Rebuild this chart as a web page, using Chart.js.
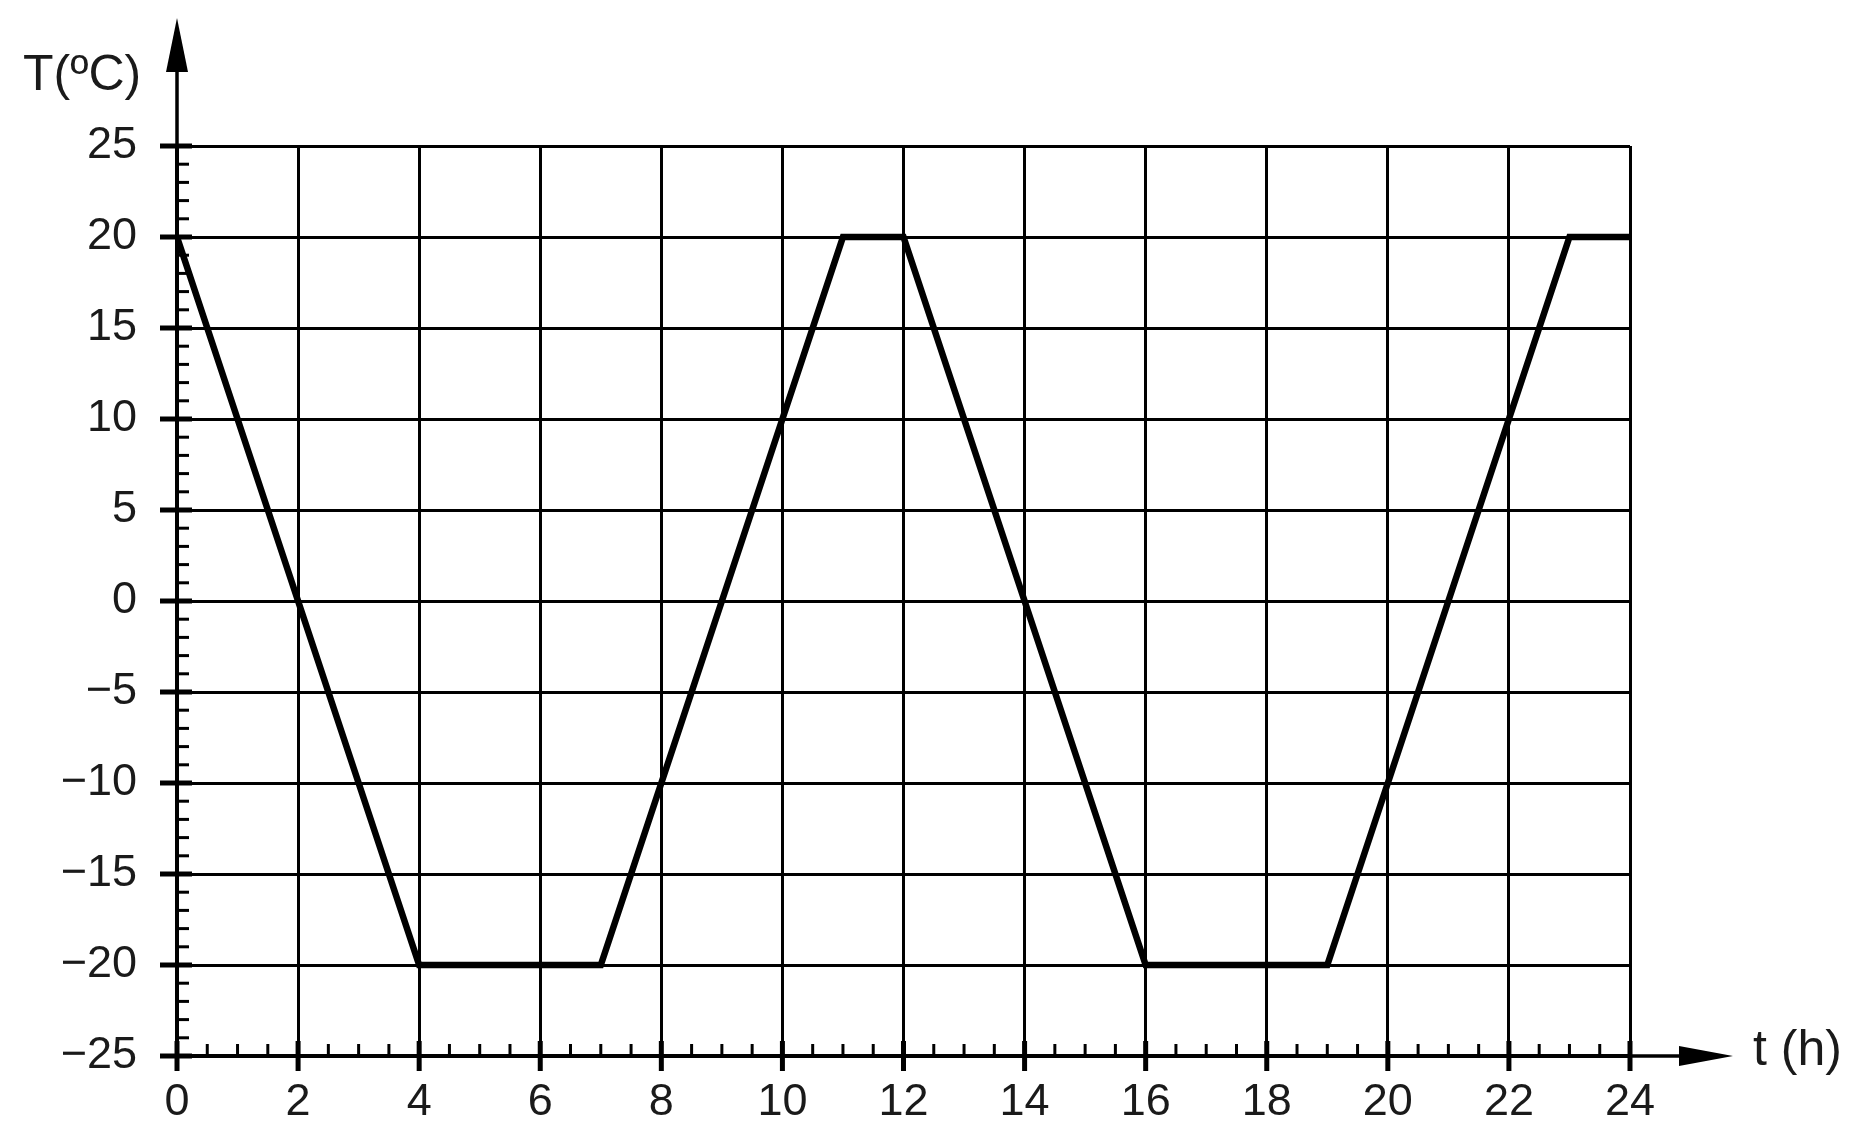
<!DOCTYPE html>
<html>
<head>
<meta charset="utf-8">
<script src="https://cdn.jsdelivr.net/npm/chart.js@4.4.1/dist/chart.umd.min.js"></script>
<style>
  html, body { margin: 0; padding: 0; background: #fff; }
  canvas { display: block; }
</style>
</head>
<body>
<canvas id="chart" width="1850" height="1148"></canvas>
<script>
// Данные графика
const hours = [0, 4, 7, 11, 12, 16, 19, 23, 24];
const temps = [20, -20, -20, 20, 20, -20, -20, 20, 20];

// Подписи осей
const xTicks = [0, 2, 4, 6, 8, 10, 12, 14, 16, 18, 20, 22, 24];
const yTicks = [-25, -20, -15, -10, -5, 0, 5, 10, 15, 20, 25];
const xTitle = 't (h)';
const yTitle = 'T(ºC)';

const FONT = '"Liberation Sans", Arial, Helvetica, sans-serif';

// Стрелки осей, засечки и подписи осей
const axisDecor = {
    id: 'axisDecor',
    afterDraw(chart) {
        const { ctx, chartArea } = chart;
        const xs = chart.scales.x, ys = chart.scales.y;
        const x0 = xs.getPixelForValue(xTicks[0]);
        const y0 = ys.getPixelForValue(yTicks[0]);
        ctx.save();
        ctx.strokeStyle = '#000';
        ctx.fillStyle = '#000';

        // ось Y со стрелкой
        ctx.lineWidth = 3.5;
        ctx.beginPath();
        ctx.moveTo(x0, chartArea.top);
        ctx.lineTo(x0, 40);
        ctx.stroke();
        ctx.beginPath();
        ctx.moveTo(x0, 18);
        ctx.lineTo(x0 + 11, 72);
        ctx.lineTo(x0 - 11, 72);
        ctx.closePath();
        ctx.fill();

        // ось X со стрелкой
        ctx.beginPath();
        ctx.moveTo(chartArea.right, y0);
        ctx.lineTo(1710, y0);
        ctx.stroke();
        ctx.beginPath();
        ctx.moveTo(1733, y0);
        ctx.lineTo(1679, y0 - 10);
        ctx.lineTo(1679, y0 + 10);
        ctx.closePath();
        ctx.fill();

        // мелкие засечки по Y (шаг 1)
        ctx.lineWidth = 3;
        const yMin = yTicks[0], yMax = yTicks[yTicks.length - 1];
        for (let v = yMin; v <= yMax; v += 1) {
            if (yTicks.includes(v)) continue;
            const py = ys.getPixelForValue(v);
            ctx.beginPath();
            ctx.moveTo(x0, py);
            ctx.lineTo(x0 + 12, py);
            ctx.stroke();
        }
        // мелкие засечки по X (шаг 0.5)
        const xMin = xTicks[0], xMax = xTicks[xTicks.length - 1];
        for (let v = xMin; v <= xMax; v += 0.5) {
            if (xTicks.includes(v)) continue;
            const px = xs.getPixelForValue(v);
            ctx.beginPath();
            ctx.moveTo(px, y0);
            ctx.lineTo(px, y0 - 12);
            ctx.stroke();
        }

        // крупные засечки
        ctx.lineWidth = 5;
        yTicks.forEach(v => {
            const py = ys.getPixelForValue(v);
            ctx.beginPath();
            ctx.moveTo(x0 - 17, py);
            ctx.lineTo(x0 + 15, py);
            ctx.stroke();
        });
        xTicks.forEach(v => {
            const px = xs.getPixelForValue(v);
            ctx.beginPath();
            ctx.moveTo(px, y0 - 15);
            ctx.lineTo(px, y0 + 15);
            ctx.stroke();
        });

        // подписи осей
        ctx.font = '50px ' + FONT;
        ctx.fillStyle = '#1a1a1a';
        ctx.textBaseline = 'alphabetic';
        ctx.textAlign = 'left';
        ctx.fillText(yTitle, 23, 90);
        ctx.fillText(xTitle, 1753, 1065);
        ctx.restore();
    }
};

const chart = new Chart(document.getElementById('chart'), {
    type: 'line',
    data: {
        datasets: [{
            data: hours.map((h, i) => ({ x: h, y: temps[i] })),
            borderColor: '#000',
            borderWidth: 6.5,
            pointRadius: 0,
            tension: 0,
            fill: false
        }]
    },
    options: {
        responsive: false,
        animation: false,
        layout: { padding: { top: 146, right: 220, bottom: 0, left: 0 } },
        plugins: {
            legend: { display: false },
            tooltip: { enabled: false }
        },
        scales: {
            x: {
                type: 'linear',
                min: xTicks[0],
                max: xTicks[xTicks.length - 1],
                afterBuildTicks: scale => { scale.ticks = xTicks.map(v => ({ value: v })); },
                afterFit: scale => { scale.height = 92; },
                ticks: {
                    color: '#1a1a1a',
                    padding: 20,
                    maxRotation: 0,
                    autoSkip: false,
                    font: { family: FONT, size: 45 }
                },
                grid: { color: '#000', lineWidth: 3, drawTicks: false },
                border: { color: '#000', width: 3.5 }
            },
            y: {
                type: 'linear',
                min: yTicks[0],
                max: yTicks[yTicks.length - 1],
                afterBuildTicks: scale => { scale.ticks = yTicks.map(v => ({ value: v })); },
                afterFit: scale => { scale.width = 177; },
                ticks: {
                    color: '#1a1a1a',
                    padding: 40,
                    autoSkip: false,
                    font: { family: FONT, size: 45 },
                    callback: v => (v < 0 ? '\u2212' + Math.abs(v) : String(v))
                },
                grid: { color: '#000', lineWidth: 3, drawTicks: false },
                border: { color: '#000', width: 3.5 }
            }
        }
    },
    plugins: [axisDecor]
});
</script>
</body>
</html>
